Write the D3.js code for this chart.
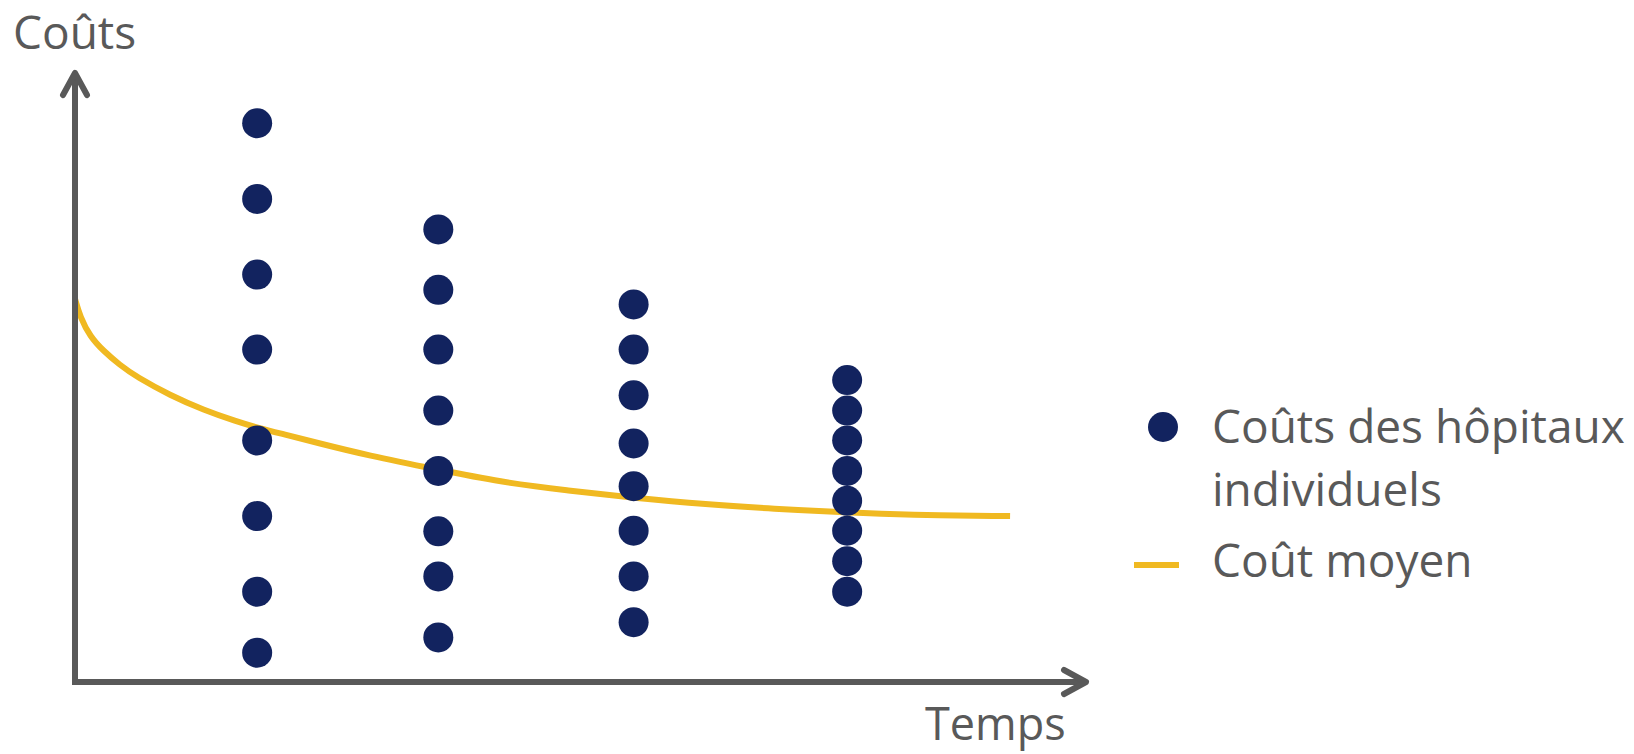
<!DOCTYPE html>
<html>
<head>
<meta charset="utf-8">
<script src="https://cdn.jsdelivr.net/npm/d3@7"></script>
<style>
  html, body { margin: 0; padding: 0; background: #ffffff; }
  svg { display: block; }
  text { font-family: "Open Sans", sans-serif; fill: #595959; }
</style>
</head>
<body>
<svg id="chart" width="1634" height="754"></svg>
<script>
// ---- data ----
const periods = [1.80, 3.59, 5.52, 7.63];
const hospitalCosts1 = [91.6, 79.2, 66.8, 54.5, 39.6, 27.2, 14.8, 4.8];
const hospitalCosts2 = [74.2, 64.3, 54.5, 44.5, 34.6, 24.7, 17.3, 7.3];
const hospitalCosts3 = [61.9, 54.5, 47.0, 39.1, 32.1, 24.8, 17.3, 9.8];
const hospitalCosts4 = [49.5, 44.5, 39.6, 34.6, 29.7, 24.8, 19.8, 14.8];
const avgTime = [0.0, 0.05, 0.15, 0.28, 0.44, 0.61, 0.94, 1.27, 1.60, 1.80, 2.09, 2.42, 2.88, 3.59, 4.20, 4.86, 5.52, 6.24, 6.90, 7.63, 8.22, 9.24];
const avgCost = [62.8, 59.9, 56.6, 54.3, 52.0, 50.0, 47.0, 44.6, 42.7, 41.7, 40.5, 39.1, 37.2, 34.8, 32.8, 31.4, 30.2, 29.1, 28.4, 27.8, 27.4, 27.2];
const yAxisLabel = "Coûts";
const xAxisLabel = "Temps";
const legendLabels = [["Coûts des hôpitaux", "individuels"], ["Coût moyen"]];

const seriesByPeriod = [hospitalCosts1, hospitalCosts2, hospitalCosts3, hospitalCosts4];

const navy = "#12235F";
const gold = "#F0B921";
const grey = "#595959";

const svg = d3.select("#chart");

const x = d3.scaleLinear().domain([0, 10]).range([75, 1087]);
const y = d3.scaleLinear().domain([0, 100]).range([682, 72]);

// average cost curve (under the dots)
const avgData = avgTime.map((t, i) => ({ t, c: avgCost[i] }));
svg.append("path")
  .datum(avgData)
  .attr("fill", "none")
  .attr("stroke", gold)
  .attr("stroke-width", 6)
  .attr("d", d3.line().x(d => x(d.t)).y(d => y(d.c)).curve(d3.curveBasis));

// axes
const x0 = x.range()[0], x1 = x.range()[1];
const y0 = y.range()[0], y1 = y.range()[1];
const axisG = svg.append("g")
  .attr("fill", "none")
  .attr("stroke", grey)
  .attr("stroke-width", 6);
axisG.append("path").attr("d", `M${x0},${y0 + 3}V${y1}`);
axisG.append("path").attr("d", `M${x0 - 3},${y0}H${x1}`);
axisG.append("path")
  .attr("stroke-linecap", "round").attr("stroke-linejoin", "round")
  .attr("d", `M${x0 - 12},${y1 + 23}L${x0},${y1 + 1}L${x0 + 12},${y1 + 23}`);
axisG.append("path")
  .attr("stroke-linecap", "round").attr("stroke-linejoin", "round")
  .attr("d", `M${x1 - 23},${y0 - 12}L${x1 - 1},${y0}L${x1 - 23},${y0 + 12}`);

// dots
const dots = [];
seriesByPeriod.forEach((vals, i) => vals.forEach(v => dots.push({ t: periods[i], c: v })));
svg.append("g").selectAll("circle")
  .data(dots)
  .join("circle")
  .attr("cx", d => x(d.t))
  .attr("cy", d => y(d.c))
  .attr("r", 15)
  .attr("fill", navy);

// axis labels
svg.append("text").attr("x", 13).attr("y", 49).attr("font-size", 46).text(yAxisLabel);
svg.append("text").attr("x", 925).attr("y", 740).attr("font-size", 45).text(xAxisLabel);

// legend
const lg = svg.append("g");
lg.append("circle").attr("cx", 1163).attr("cy", 427).attr("r", 15).attr("fill", navy);
lg.append("text").attr("x", 1212).attr("y", 443).attr("font-size", 46).text(legendLabels[0][0]);
lg.append("text").attr("x", 1212).attr("y", 506).attr("font-size", 46).text(legendLabels[0][1]);
lg.append("line").attr("x1", 1134).attr("x2", 1179).attr("y1", 565).attr("y2", 565)
  .attr("stroke", gold).attr("stroke-width", 6);
lg.append("text").attr("x", 1212).attr("y", 577).attr("font-size", 46).text(legendLabels[1][0]);
</script>
</body>
</html>
